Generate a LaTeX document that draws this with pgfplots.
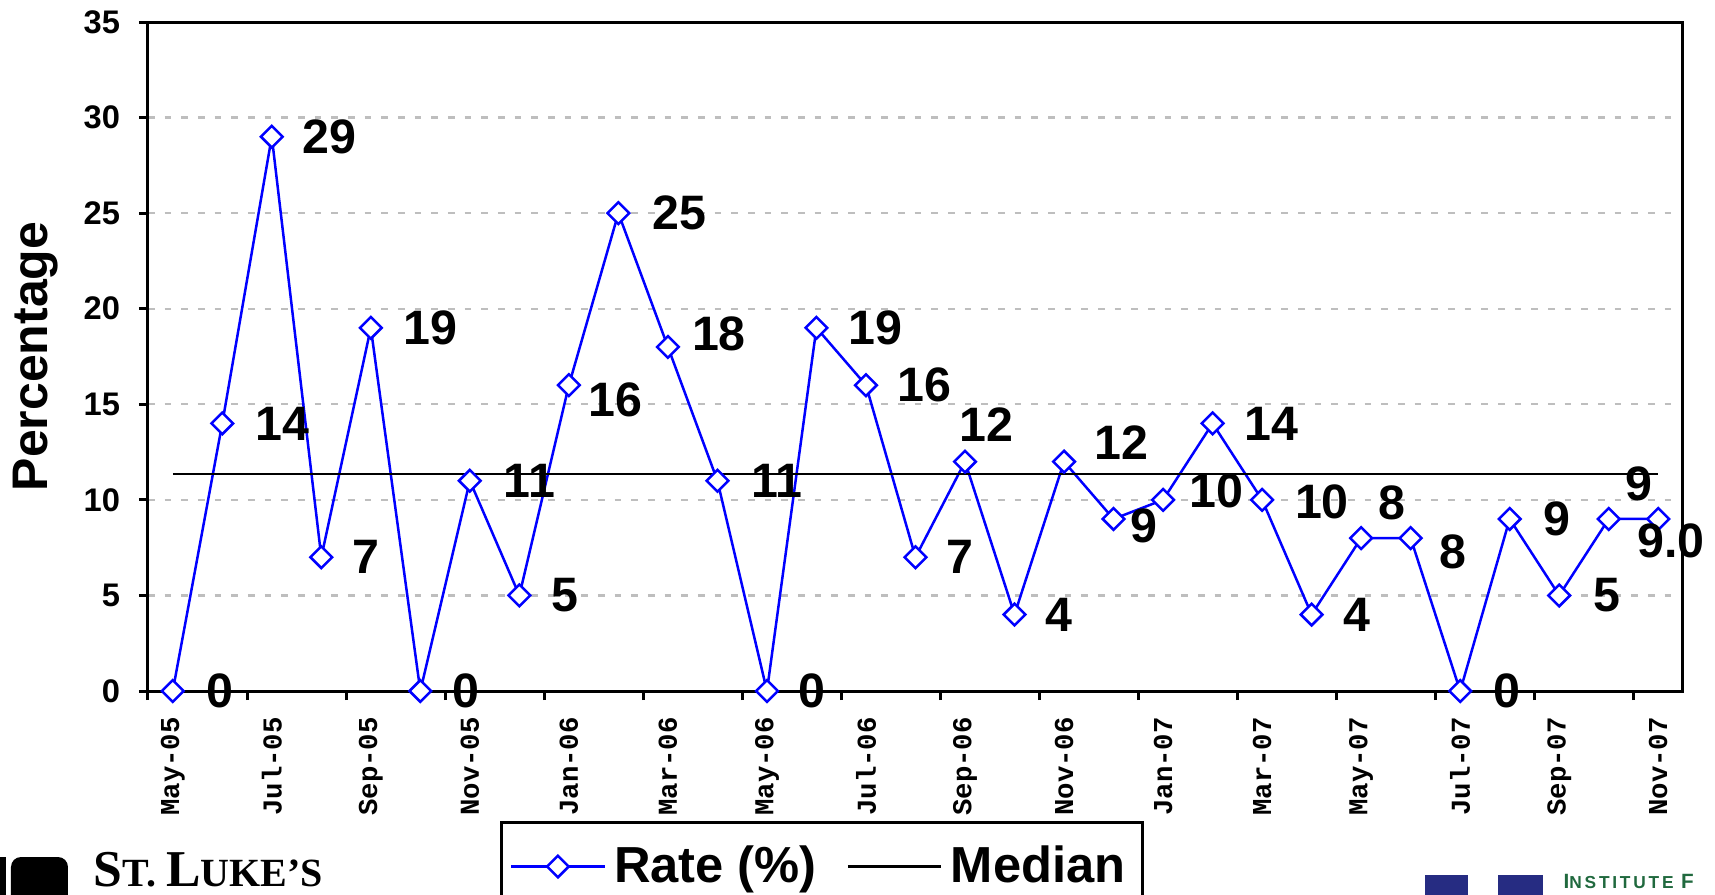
\documentclass[border=0pt]{standalone}
\usepackage{fontspec}
\setmainfont{Liberation Sans}
\newfontfamily\monofont{Liberation Mono}
\newfontfamily\seriffont{Liberation Serif}
\newfontfamily\logofont[LetterSpace=16]{Liberation Sans}
\usepackage{pgfplots}
\usepackage{pgfplotstable}
\pgfplotsset{compat=1.18}
\definecolor{logonavy}{RGB}{38,44,130}
\definecolor{logogreen}{RGB}{32,105,62}
\definecolor{gridgray}{RGB}{190,190,190}

% x = month index (0 = May-05), y = rate, lab = data label, dx/up = label offset
\pgfplotstableread{
x y lab dx up
0 0 0 30 0
1 14 14 29 0
2 29 29 27 0
3 7 7 27 0
4 19 19 29 0
5 0 0 28 0
6 11 11 30 0
7 5 5 28 0
8 16 16 17 -13
9 25 25 30 0
10 18 18 21 12
11 11 11 30 0
12 0 0 28 0
13 19 19 28 0
14 16 16 28 0
15 7 7 27 0
16 12 12 -6 34
17 4 4 27 0
18 12 12 27 17
19 9 9 14 -6
20 10 10 23 8
21 14 14 28 0
22 10 10 29 -2
23 4 4 28 0
24 8 8 15 32
25 8 8 25 -13
26 0 0 29 0
27 9 9 30 0
28 5 5 30 0
29 9 9 14 32
30 9 9.0 -20 -20
}\ratedata

\begin{document}
\begin{tikzpicture}
\begin{axis}[
  at={(0pt,0pt)}, anchor=south west,
  scale only axis, width=460.5pt, height=200.7pt,
  xmin=-0.5, xmax=30.5, ymin=0, ymax=35,
  clip=false,
  axis line style={line width=0.9pt, black},
  tick pos=left, tick align=outside,
  major tick length=2.7pt, minor tick length=2.7pt,
  tick style={black, line width=0.9pt},
  ytick={0,5,...,35},
  xtick={0,2,...,30},
  xticklabels={May-05,Jul-05,Sep-05,Nov-05,Jan-06,Mar-06,May-06,Jul-06,Sep-06,Nov-06,Jan-07,Mar-07,May-07,Jul-07,Sep-07,Nov-07},
  minor xtick={-0.5,1.5,...,29.5},
  major x tick style={draw=none},
  ymajorgrids,
  major grid style={gridgray, dash pattern=on 2pt off 3pt, line width=0.7pt},
  /pgf/number format/assume math mode=true,
  yticklabel style={font=\fontsize{9.8}{10}\selectfont\bfseries, anchor=east, inner sep=0pt},
  yticklabel shift=5.5pt,
  xticklabel style={font=\monofont\fontsize{8.2}{9}\selectfont\bfseries, rotate=90, anchor=east, inner sep=0pt},
  xticklabel shift=5pt,
  ylabel={Percentage},
  ylabel style={at={(axis description cs:-0.073,0.5)}, anchor=center, font=\fontsize{15}{16}\selectfont\bfseries},
  legend columns=2,
  legend image code/.code={\draw[mark repeat=2,mark phase=2,#1] plot coordinates {(0pt,0pt) (14pt,0pt) (28pt,0pt)};},
  legend style={at={(0.2293,-0.1943)}, anchor=north west, draw=black, line width=0.8pt,
    font=\fontsize{15.2}{16}\selectfont\bfseries, inner xsep=2.6pt, inner ysep=5pt,
    nodes={inner xsep=2.5pt, inner ysep=2pt},
    /tikz/every even column/.append style={column sep=6.5pt}},
]
\addplot[blue, line width=0.75pt, mark=square*, mark size=2.3pt,
  mark options={rotate=45, fill=white, draw=blue, solid, line width=0.75pt},
  point meta=explicit symbolic,
  nodes near coords,
  visualization depends on={\thisrow{dx} \as \dx},
  visualization depends on={\thisrow{up} \as \up},
  every node near coord/.append style={anchor=west, inner sep=0pt,
    xshift={\dx*0.328pt}, yshift={\up*0.328pt},
    font=\fontsize{14.5}{15}\selectfont\bfseries, text=black}
] table[x=x, y=y, meta=lab] {\ratedata};
\addlegendentry{Rate (\%)}
\addplot[black, line width=0.7pt] coordinates {(0,11.35) (30,11.35)};
\addlegendentry{Median}
\end{axis}

% St. Luke's logo (bottom left, cropped)
\fill[black] (-44.4pt,-49.8pt) rectangle (-42.5pt,-70pt);
\fill[black, rounded corners=3pt] (-41.1pt,-49.8pt) -- (-24pt,-49.8pt) -- (-24pt,-70pt) -- (-41.1pt,-70pt) -- cycle;
\node[anchor=base west, inner sep=0pt] at (-16.5pt,-58.6pt)
  {\seriffont\bfseries\fontsize{15.5}{16}\selectfont S\fontsize{12}{12}\selectfont T. \fontsize{15.5}{16}\selectfont L\fontsize{12}{12}\selectfont UKE’S};

% Institute logo (bottom right)
\fill[logonavy] (383.1pt,-55.2pt) rectangle (396pt,-70pt);
\fill[logonavy] (405pt,-55.2pt) rectangle (418.5pt,-70pt);
\node[anchor=base west, inner sep=0pt, text=logogreen] at (424.5pt,-59.3pt)
  {\logofont\bfseries\fontsize{6.2}{7}\selectfont I\fontsize{5.2}{6}\selectfont NSTITUTE \fontsize{6.2}{7}\selectfont F};

\pgfresetboundingbox
\path[use as bounding box] (-44.4pt,-60.9pt) rectangle (470.1pt,207.3pt);
\end{tikzpicture}
\end{document}
